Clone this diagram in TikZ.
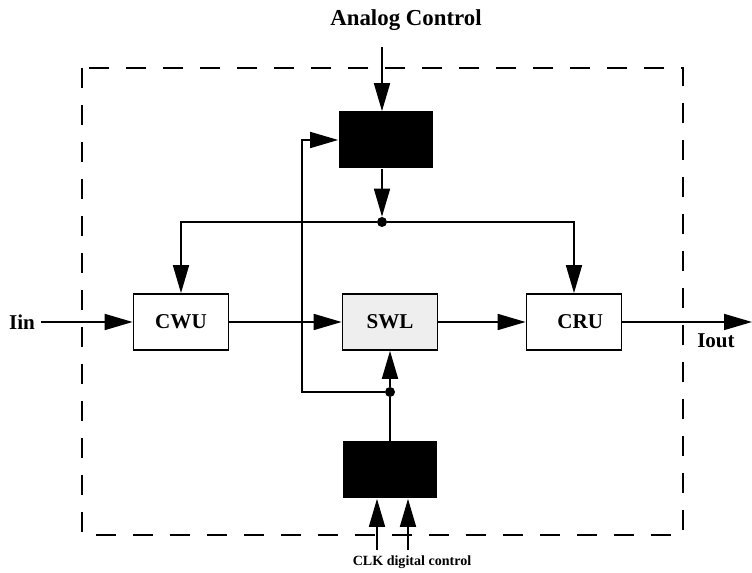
\documentclass[tikz,border=0pt]{standalone}
\usepackage{fontspec}
\setmainfont{Liberation Serif}
\usetikzlibrary{positioning,arrows.meta}
\definecolor{swlgray}{HTML}{EEEEEE}
\tikzset{
  unitbox/.style={draw, line width=1pt, minimum width=1.9cm, minimum height=1.12cm,
    font=\bfseries\fontsize{12}{14}\selectfont},
  blackbox/.style={fill=black, minimum width=1.9cm, minimum height=1.14cm},
  sig/.style={line width=1pt, -{Triangle[length=0.56cm,width=0.32cm]}},
  lbl/.style={font=\bfseries\fontsize{12}{14}\selectfont},
  jdot/.style={circle, fill=black, inner sep=0pt, minimum size=0.2cm}
}

\begin{document}
\begin{tikzpicture}[x=0.02cm,y=-0.02cm]
    \useasboundingbox (0,0) rectangle (752,573);
    % system boundary
    \draw[line width=1pt, dash pattern=on 0.4cm off 0.34cm] (82,68) rectangle (683,535);
    % blocks
    \node[blackbox] (ctl) at (386,140) {};
    \node[blackbox] (clk) at (390,470) {};
    \node[unitbox] (cwu) at (181,322) {CWU};
    \node[unitbox, fill=swlgray] (swl) at (390,322) {SWL};
    \node[unitbox] (cru) at (574,322) {\hspace*{0.25cm}CRU};
    % labels
    \node[lbl, font=\bfseries\fontsize{13}{16}\selectfont] (actxt) at (406,20) {Analog Control};
    \node[lbl] (iin) at (22,322) {Iin};
    \node[lbl] (iouttxt) at (716,341) {Iout};
    \node[lbl, font=\bfseries\fontsize{8}{10}\selectfont] (clktxt) at (412,562) {CLK digital control};
    % junctions and free ends
    \node[jdot] (jtop) at (382,222) {};
    \node[jdot] (jbot) at (390,392) {};
    \coordinate (acin) at (382,47);
    \coordinate (iout) at (752,322);
    \coordinate (fb) at (302,392);
    \coordinate (clkin) at (377,550);
    \coordinate (digin) at (408,550);
    % connectors
    \draw[sig] (acin) -- (acin |- ctl.north);
    \draw[sig] (ctl.south -| jtop) -- (jtop.north);
    \draw[sig] (jtop) -| (cwu.north);
    \draw[sig] (jtop) -| (cru.north);
    \draw[sig] (iin.east) -- (cwu.west);
    \draw[sig] (cwu.east) -- (swl.west);
    \draw[sig] (swl.east) -- (cru.west);
    \draw[sig] (cru.east) -- (iout);
    \draw[line width=1pt] (clk.north) -- (jbot);
    \draw[sig] (jbot) -- (swl.south);
    \draw[sig] (jbot) -- (fb) |- (ctl.west);
    \draw[sig] (clkin) -- (clkin |- clk.south);
    \draw[sig] (digin) -- (digin |- clk.south);
\end{tikzpicture}
\end{document}
